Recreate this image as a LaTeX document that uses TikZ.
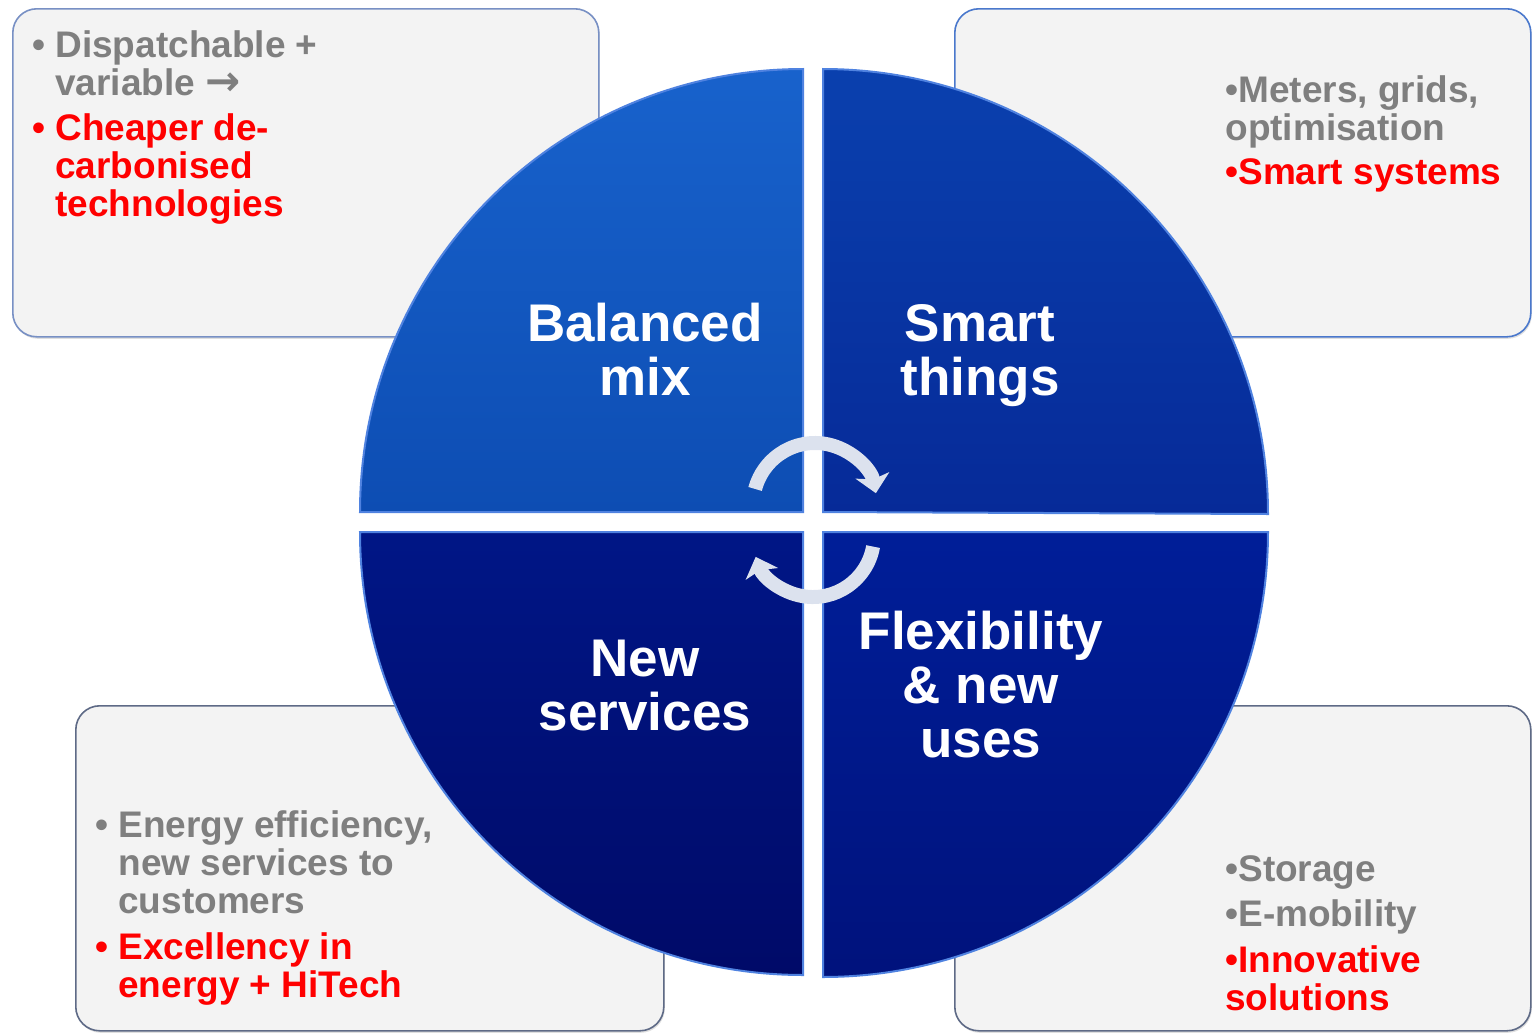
\documentclass[tikz,border=0pt]{standalone}
\usepackage{fontspec}
\setmainfont{Liberation Sans}
\newfontfamily\arrowfont{DejaVu Sans}
\usetikzlibrary{positioning,arrows.meta,shadows}
\definecolor{txtgray}{HTML}{7F7F7F}
\definecolor{txtred}{HTML}{FF0000}
\definecolor{boxfill}{HTML}{F3F3F3}
\definecolor{boxline}{HTML}{7890C4}
\definecolor{boxlineB}{HTML}{4A78CC}
\definecolor{boxlineC}{HTML}{5E6A86}
\definecolor{loopgray}{HTML}{DCE2EE}
\definecolor{rimblue}{HTML}{4F82E0}
\definecolor{tlA}{HTML}{1862CC}
\definecolor{tlB}{HTML}{0D4DB3}
\definecolor{trA}{HTML}{0A40AE}
\definecolor{trB}{HTML}{062A98}
\definecolor{blA}{HTML}{001686}
\definecolor{blB}{HTML}{000A68}
\definecolor{brA}{HTML}{001E98}
\definecolor{brB}{HTML}{00127C}
\begin{document}
\begin{tikzpicture}[x=0.5pt,y=-0.5pt,
    infobox/.style={draw=boxline, fill=boxfill, rounded corners=12pt, line width=0.8pt,
        anchor=north west, inner sep=0, drop shadow={opacity=0.25, shadow xshift=0.5pt, shadow yshift=-1pt}},
    bul/.style={anchor=base west, inner sep=0, align=left, font=\fontsize{18.5}{19}\selectfont\bfseries},
    grey/.style={bul, text=txtgray},
    hot/.style={bul, text=txtred},
    quad/.style={draw=rimblue, line width=1pt},
    qlabel/.style={anchor=base, inner sep=0, align=center, text=white, font=\fontsize{26.5}{27}\selectfont\bfseries},
    looparrow/.style={draw=loopgray, line width=7pt, -{Stealth[length=9pt,width=17pt,inset=2pt]}}
    ]
    \useasboundingbox (0,0) rectangle (1533,1034);

    \node[infobox, minimum width=293pt, minimum height=164pt] (boxTL) at (12,8) {};
    \node[infobox, draw=boxlineB, minimum width=288pt, minimum height=164pt] (boxTR) at (954,8) {};
    \node[infobox, draw=boxlineC, minimum width=294pt, minimum height=162.5pt] (boxBL) at (75,705) {};
    \node[infobox, draw=boxlineC, minimum width=288pt, minimum height=162.5pt] (boxBR) at (954,705) {};

    \shade[quad, top color=tlA, bottom color=tlB] (803,512) -- (360,512) arc[start angle=180, end angle=270, radius=443] -- cycle;
    \shade[quad, top color=trA, bottom color=trB] (823,512) -- (823,69) arc[start angle=270, end angle=360, radius=445] -- cycle;
    \shade[quad, top color=blA, bottom color=blB] (803,532) -- (360,532) arc[start angle=180, end angle=90, radius=443] -- cycle;
    \shade[quad, top color=brA, bottom color=brB] (823,532) -- (1268,532) arc[start angle=0, end angle=90, radius=445] -- cycle;

    \node[qlabel] (mix) at (645,395) {Balanced\\mix};
    \node[qlabel] (smart) at (980,395) {Smart\\things};
    \node[qlabel] (newsrv) at (645,730) {New\\services};
    \node[qlabel] (flex) at (981,757) {Flexibility\\\& new\\uses};

    \node[grey] (dispatch) at (55,95) {\llap{•\hspace{5pt}}Dispatchable +\\variable {\arrowfont\fontsize{21}{19}\selectfont →}};
    \node[hot] (cheaper) at (55,216) {\llap{•\hspace{5pt}}Cheaper de-\\carbonised\\technologies};

    \node[grey] (meters) at (1225,140) {•Meters, grids,\\optimisation};
    \node[hot] (smartsys) at (1225,184) {•Smart systems};

    \node[grey] (effic) at (118,913) {\llap{•\hspace{5pt}}Energy efficiency,\\new services to\\customers};
    \node[hot] (excel) at (118,997) {\llap{•\hspace{5pt}}Excellency in\\energy + HiTech};

    \node[grey] (storage) at (1225,881) {•Storage};
    \node[grey] (emob) at (1225,926) {•E-mobility};
    \node[hot] (innov) at (1225,1010) {•Innovative\\solutions};

    \coordinate (hubN) at (815,505);
    \coordinate (hubS) at (813,536);
    \draw[looparrow] ([shift={(-165:62)}]hubN) arc[start angle=-165, end angle=-11, radius=62];
    \draw[looparrow] ([shift={(10:61)}]hubS) arc[start angle=10, end angle=160, radius=61];
\end{tikzpicture}
\end{document}
